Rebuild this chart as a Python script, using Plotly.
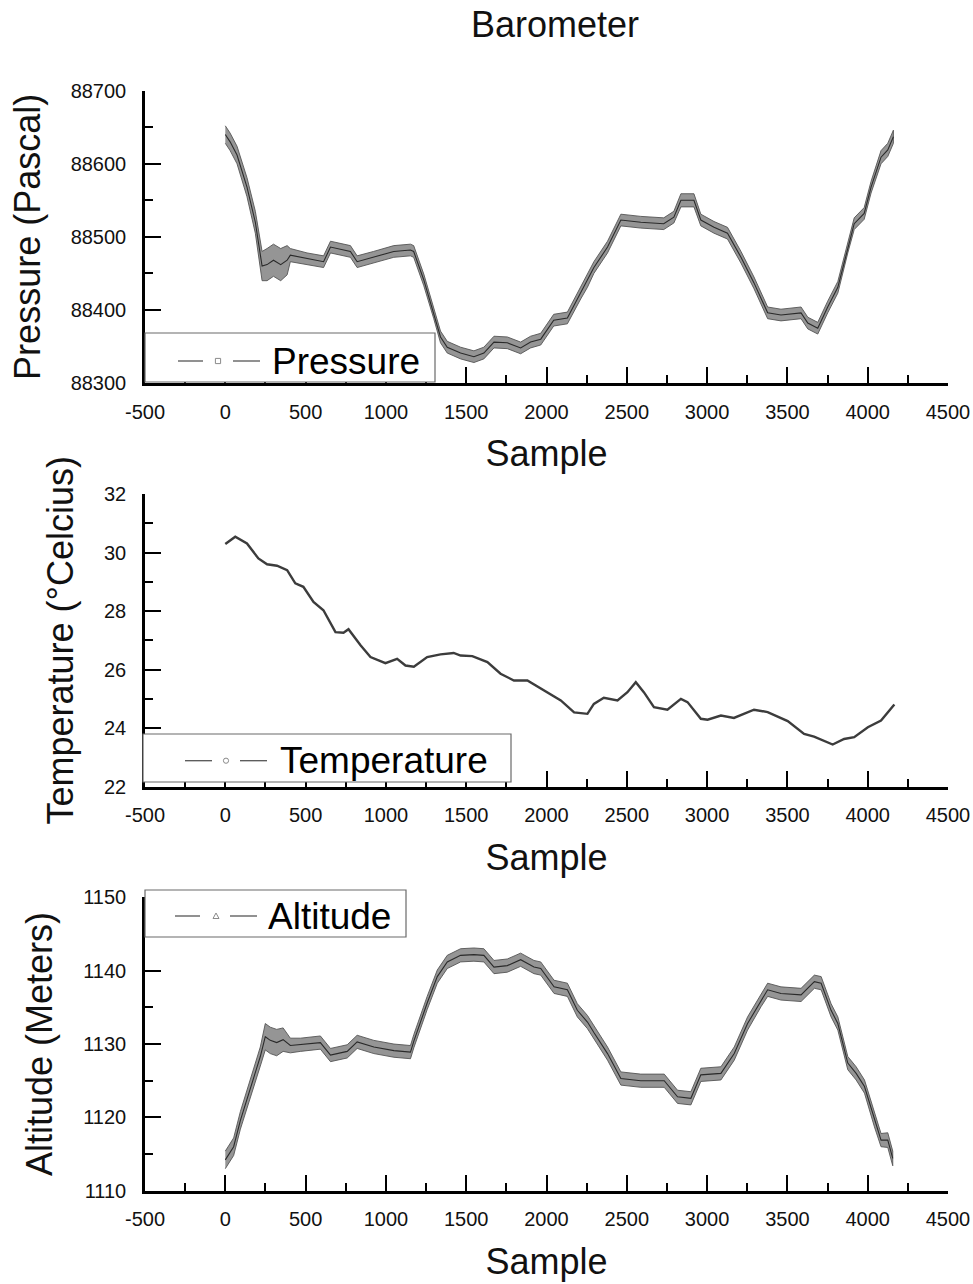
import plotly.graph_objects as go

W, H = 973, 1284

# ---------------- data ----------------
pressure_sample = [0, 30, 73, 135, 187, 229, 260, 300, 345, 385,
                   405, 509, 612, 655, 779, 821, 923, 1049, 1153, 1173,
                   1236, 1298, 1340, 1382, 1465, 1548, 1610, 1673, 1756, 1839,
                   1901, 1964, 2045, 2130, 2213, 2255, 2295, 2380, 2463, 2587,
                   2730, 2793, 2837, 2918, 2961, 3043, 3127, 3211, 3292, 3377,
                   3460, 3585, 3627, 3689, 3751, 3814, 3876, 3916, 3978, 4021,
                   4083, 4125, 4160]
pressure_value = [88640, 88630, 88612, 88568, 88520, 88460, 88462, 88468, 88462, 88468,
                  88475, 88470, 88466, 88486, 88480, 88466, 88472, 88480, 88482, 88480,
                  88441, 88396, 88363, 88349, 88341, 88336, 88341, 88356, 88355, 88348,
                  88356, 88360, 88386, 88389, 88423, 88440, 88458, 88486, 88523, 88520,
                  88518, 88527, 88550, 88550, 88523, 88513, 88505, 88472, 88437, 88396,
                  88393, 88396, 88382, 88375, 88404, 88431, 88486, 88518, 88532, 88568,
                  88609, 88619, 88637]
# half-width of the noise band seen around the trace (Pa)
pressure_noise = [12, 12, 12, 13, 15, 20, 22, 22, 22, 20,
                  9, 8, 8, 8, 8, 8, 8, 8, 8, 8,
                  8, 8, 8, 8, 8, 8, 8, 8, 8, 8,
                  8, 8, 8, 8, 8, 9, 8, 8, 8, 8,
                  8, 8, 9, 9, 8, 8, 8, 8, 8, 8,
                  8, 8, 8, 8, 8, 8, 8, 8, 8, 8,
                  9, 9, 9]

temperature_sample = [0, 62, 135, 206, 260, 322, 385, 436, 486, 549,
                      611, 686, 736, 767, 842, 904, 997, 1070, 1122, 1174,
                      1257, 1340, 1422, 1465, 1538, 1632, 1714, 1797, 1881, 1984,
                      2089, 2172, 2255, 2295, 2357, 2442, 2504, 2556, 2606, 2669,
                      2753, 2837, 2878, 2961, 3003, 3086, 3167, 3292, 3377, 3502,
                      3604, 3666, 3782, 3853, 3916, 4001, 4083, 4166]
temperature_value = [30.29, 30.54, 30.31, 29.80, 29.60, 29.55, 29.40, 28.95, 28.83, 28.31,
                     28.03, 27.28, 27.26, 27.38, 26.83, 26.43, 26.22, 26.37, 26.14, 26.10,
                     26.43, 26.52, 26.57, 26.48, 26.46, 26.26, 25.86, 25.63, 25.63, 25.29,
                     24.95, 24.54, 24.49, 24.83, 25.04, 24.95, 25.23, 25.57, 25.23, 24.72,
                     24.63, 25.00, 24.89, 24.32, 24.29, 24.43, 24.35, 24.63, 24.55, 24.24,
                     23.80, 23.71, 23.44, 23.63, 23.69, 24.03, 24.26, 24.81]

altitude_sample = [0, 52, 94, 135, 187, 218, 249, 280, 320, 360,
                   405, 468, 592, 655, 759, 821, 925, 1050, 1153, 1174,
                   1257, 1320, 1382, 1465, 1548, 1610, 1673, 1756, 1839, 1922,
                   1964, 2047, 2130, 2192, 2255, 2297, 2380, 2463, 2587, 2733,
                   2816, 2899, 2961, 3086, 3169, 3252, 3336, 3377, 3460, 3585,
                   3668, 3710, 3772, 3814, 3876, 3928, 3980, 4042, 4083, 4125,
                   4156]
altitude_value = [1114.2, 1116.0, 1119.6, 1122.4, 1126.0, 1128.3, 1131.0, 1130.5, 1130.2, 1130.6,
                  1129.8, 1129.9, 1130.2, 1128.5, 1129.0, 1130.3, 1129.6, 1129.1, 1128.9, 1130.4,
                  1135.6, 1139.2, 1141.2, 1142.1, 1142.2, 1142.1, 1140.5, 1140.7, 1141.5, 1140.5,
                  1140.3, 1137.8, 1137.4, 1134.6, 1133.0, 1131.5, 1128.7, 1125.3, 1125.0, 1125.0,
                  1122.8, 1122.6, 1125.8, 1126.0, 1128.7, 1132.8, 1136.0, 1137.4, 1136.9, 1136.7,
                  1138.5, 1138.3, 1134.6, 1132.8, 1127.4, 1126.0, 1124.2, 1119.6, 1116.9, 1116.9,
                  1114.4]
altitude_noise = [1.2, 1.2, 1.2, 1.2, 1.2, 1.3, 1.8, 1.8, 1.8, 1.6,
                  1.0, 0.9, 0.9, 0.9, 0.9, 0.9, 0.9, 0.9, 0.9, 0.9,
                  0.9, 0.9, 0.9, 0.9, 0.9, 0.9, 0.9, 0.9, 0.9, 0.9,
                  0.9, 0.9, 0.9, 0.9, 0.9, 0.9, 0.9, 0.9, 0.9, 0.9,
                  0.9, 0.9, 0.9, 0.9, 0.9, 0.9, 0.9, 0.9, 0.9, 0.9,
                  0.9, 0.9, 0.9, 0.9, 0.9, 0.9, 0.9, 0.9, 0.9, 1.0,
                  1.0]

x_tick_values = [-500, 0, 500, 1000, 1500, 2000, 2500, 3000, 3500, 4000, 4500]
x_tick_labels = ["-500", "0", "500", "1000", "1500", "2000", "2500", "3000", "3500", "4000", "4500"]
pressure_ticks = [88300, 88400, 88500, 88600, 88700]
temperature_ticks = [22, 24, 26, 28, 30, 32]
altitude_ticks = [1110, 1120, 1130, 1140, 1150]

assert len(pressure_sample) == len(pressure_value) == len(pressure_noise)
assert len(temperature_sample) == len(temperature_value)
assert len(altitude_sample) == len(altitude_value) == len(altitude_noise)

# ---------------- helpers ----------------
FONT = "Liberation Sans, Arial, sans-serif"


def px(xp):
    return xp / W


def py(yp):
    return 1 - yp / H


fig = go.Figure()


def band(xs, ys, ns, xa, ya, name):
    upper = [v + n for v, n in zip(ys, ns)]
    lower = [v - n for v, n in zip(ys, ns)]
    fig.add_trace(go.Scatter(
        x=xs + xs[::-1], y=upper + lower[::-1], mode="lines", fill="toself",
        fillcolor="#959595", line=dict(color="#555555", width=0.9),
        xaxis=xa, yaxis=ya, showlegend=False, hoverinfo="skip"))
    fig.add_trace(go.Scatter(
        x=xs, y=ys, mode="lines", line=dict(color="#2a2a2a", width=1.1),
        xaxis=xa, yaxis=ya, name=name, showlegend=False))


band(pressure_sample, pressure_value, pressure_noise, "x", "y", "Pressure")
fig.add_trace(go.Scatter(x=temperature_sample, y=temperature_value, mode="lines",
                         line=dict(color="#3c3c3c", width=2.4),
                         xaxis="x2", yaxis="y2", name="Temperature", showlegend=False))
band(altitude_sample, altitude_value, altitude_noise, "x3", "y3", "Altitude")

# plot boxes (pixel positions)
left, right = 145, 948
boxes = [(90.7, 383.0), (494.0, 786.7), (897.4, 1190.7)]
yranges = [[88300, 88700], [22, 32], [1110, 1150]]
yticks = [pressure_ticks, temperature_ticks, altitude_ticks]
yminor = [50, 1, 5]
ytitles = ["Pressure (Pascal)", "Temperature (°Celcius)", "Altitude (Meters)"]

axis_common = dict(
    showline=True, linecolor="black", linewidth=2.5, mirror=False,
    ticks="inside", ticklen=16, tickwidth=2, tickcolor="black",
    showgrid=False, zeroline=False, automargin=False,
    tickfont=dict(family=FONT, size=20, color="#111"),
)

for i, (top, bot) in enumerate(boxes):
    sx = "" if i == 0 else str(i + 1)
    xa = dict(axis_common)
    xa.update(
        domain=[px(left), px(right)], range=[-500, 4500],
        tickmode="array", tickvals=x_tick_values, ticktext=x_tick_labels,
        minor=dict(tickmode="linear", tick0=-250, dtick=500, ticks="inside",
                   ticklen=8, tickwidth=2, tickcolor="black"),
        anchor="y" + sx, ticklabelstandoff=9,
        title=dict(text="Sample", font=dict(family=FONT, size=36, color="#111"), standoff=20),
    )
    ya = dict(axis_common)
    ya.update(
        domain=[py(bot), py(top)], range=yranges[i],
        tickmode="array", tickvals=yticks[i], ticktext=[str(v) for v in yticks[i]],
        minor=dict(tickmode="linear", tick0=yranges[i][0] + yminor[i], dtick=2 * yminor[i],
                   ticks="inside", ticklen=8, tickwidth=2, tickcolor="black"),
        anchor="x" + sx, ticklabelstandoff=12,
        title=dict(text=ytitles[i], font=dict(family=FONT, size=36, color="#111"), standoff=20),
    )
    fig.layout["xaxis" + sx] = xa
    fig.layout["yaxis" + sx] = ya

# ---------------- hand-drawn legends (Origin style) ----------------
shapes = []
annotations = []
legends = [
    # box l, r, t, b, line1 x0,x1, marker x, line2 x0,x1, text x, center y, label, symbol
    (145, 435, 333, 382, 178, 203, 218, 233, 260, 270, 361, "Pressure", "square"),
    (143, 511, 734, 782, 185, 212, 226, 240, 267, 278, 760.7, "Temperature", "circle"),
    (145, 406, 890, 937, 175, 200, 216, 230, 257, 266, 916, "Altitude", "triangle"),
]
for (l, r, t, b, a0, a1, mx, b0, b1, tx, cy, label, sym) in legends:
    shapes.append(dict(type="rect", xref="paper", yref="paper", x0=px(l), x1=px(r),
                       y0=py(b), y1=py(t), line=dict(color="#6a6a6a", width=1.2),
                       fillcolor="white", layer="above"))
    for (s0, s1) in [(a0, a1), (b0, b1)]:
        shapes.append(dict(type="line", xref="paper", yref="paper", x0=px(s0), x1=px(s1),
                           y0=py(cy), y1=py(cy), line=dict(color="#555", width=1.3),
                           layer="above"))
    if sym == "square":
        shapes.append(dict(type="rect", xref="paper", yref="paper", x0=px(mx - 2.6), x1=px(mx + 2.6),
                           y0=py(cy + 2.6), y1=py(cy - 2.6), line=dict(color="#8a8a8a", width=1),
                           layer="above"))
    elif sym == "circle":
        shapes.append(dict(type="circle", xref="paper", yref="paper", x0=px(mx - 2.6), x1=px(mx + 2.6),
                           y0=py(cy + 2.6), y1=py(cy - 2.6), line=dict(color="#8a8a8a", width=1),
                           layer="above"))
    else:
        shapes.append(dict(type="path", xref="paper", yref="paper",
                           path="M %f %f L %f %f L %f %f Z" % (px(mx), py(cy - 3), px(mx - 3), py(cy + 2.5),
                                                               px(mx + 3), py(cy + 2.5)),
                           line=dict(color="#8a8a8a", width=1), layer="above"))
    annotations.append(dict(text=label, xref="paper", yref="paper", x=px(tx), y=py(cy),
                            xanchor="left", yanchor="middle", showarrow=False,
                            font=dict(family=FONT, size=37, color="black")))

fig.update_layout(
    width=W, height=H, margin=dict(l=0, r=0, t=0, b=0),
    paper_bgcolor="white", plot_bgcolor="white",
    title=dict(text="Barometer", x=555 / W, y=py(24), xanchor="center", yanchor="middle",
               font=dict(family=FONT, size=36, color="#111")),
    shapes=shapes, annotations=annotations, showlegend=False,
)

fig.write_html("out.html")
